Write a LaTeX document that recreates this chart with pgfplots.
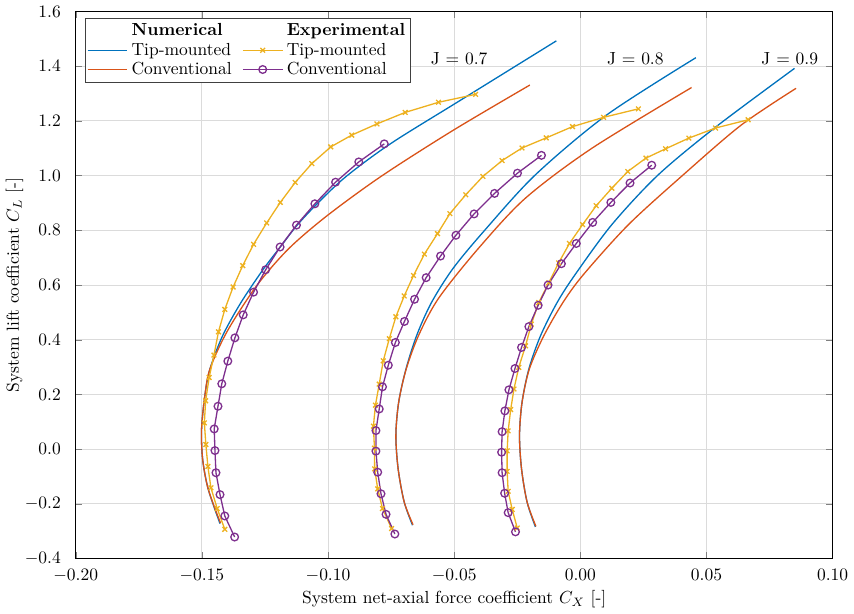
\documentclass[border=0pt]{standalone}
\usepackage{pgfplots}
\pgfplotsset{compat=1.18}
\definecolor{mblue}{rgb}{0,0.447,0.741}
\definecolor{morange}{rgb}{0.85,0.325,0.098}
\definecolor{myellow}{rgb}{0.929,0.694,0.125}
\definecolor{mpurple}{rgb}{0.494,0.184,0.556}
\begin{document}
\begin{tikzpicture}
\begin{axis}[
  width=433pt, height=313pt, scale only axis,
  xmin=-0.2, xmax=0.1, ymin=-0.4, ymax=1.6,
  xtick={-0.2,-0.15,-0.1,-0.05,0,0.05,0.1},
  ytick={-0.4,-0.2,0,0.2,0.4,0.6,0.8,1.0,1.2,1.4,1.6},
  scaled x ticks=false, scaled y ticks=false,
  xticklabel style={yshift=-2.5pt,/pgf/number format/.cd,fixed,fixed zerofill,precision=2},
  yticklabel style={xshift=-5pt,/pgf/number format/.cd,fixed,fixed zerofill,precision=1},
  tick align=inside, major tick length=3.8pt,
  grid=major, major grid style={black!14, line width=0.5pt},
  axis line style={line width=0.6pt},
  xlabel={System net-axial force coefficient $C_X$ [-]},
  ylabel={System lift coefficient $C_L$ [-]},
  xlabel style={yshift=2pt},
  ylabel shift=-6pt,
  legend columns=2,
  legend image code/.code={\draw[mark repeat=2,mark phase=2,#1] plot coordinates {(0cm,0cm) (0.4cm,0cm) (0.8cm,0cm)};},
  legend style={at={(0.012,0.988)}, anchor=north west, draw=black!75, line width=0.6pt, fill=white,
    inner sep=1pt, row sep=-1.5pt, font=\normalsize,
    /tikz/every even column/.append style={column sep=4pt}},
  legend cell align=left,
]
% Numerical tip-mounted (blue)
\addplot[mblue, line width=0.75pt, smooth, forget plot] coordinates {
(-0.1428,-0.272) (-0.1475,-0.145) (-0.1497,-0.035) (-0.1501,0.074) (-0.1488,0.196) (-0.1468,0.293) (-0.1418,0.414) (-0.1345,0.536) (-0.1257,0.657) (-0.1190,0.738) (-0.1123,0.818) (-0.1040,0.900) (-0.0928,0.997) (-0.0750,1.118) (-0.0474,1.276) (-0.0095,1.4925)};
\addplot[mblue, line width=0.75pt, smooth, forget plot] coordinates {
(-0.0665,-0.278) (-0.0698,-0.193) (-0.0722,-0.072) (-0.0731,0.050) (-0.0720,0.171) (-0.0691,0.293) (-0.0648,0.417) (-0.0590,0.536) (-0.0505,0.660) (-0.0382,0.797) (-0.0178,1.003) (0.0105,1.222) (0.0458,1.431)};
\addplot[mblue, line width=0.75pt, smooth, forget plot] coordinates {
(-0.0178,-0.284) (-0.0211,-0.193) (-0.0233,-0.072) (-0.0241,0.050) (-0.0231,0.171) (-0.0204,0.293) (-0.0158,0.414) (-0.0092,0.536) (-0.0020,0.639) (0.0125,0.821) (0.0309,1.003) (0.0540,1.180) (0.0849,1.392)};
% Numerical conventional (orange)
\addplot[morange, line width=0.75pt, smooth, forget plot] coordinates {
(-0.1426,-0.270) (-0.1475,-0.145) (-0.1497,-0.035) (-0.1501,0.074) (-0.1488,0.196) (-0.1468,0.293) (-0.1400,0.430) (-0.1284,0.596) (-0.1159,0.730) (-0.1007,0.851) (-0.0790,0.997) (-0.0505,1.165) (-0.0200,1.331)};
\addplot[morange, line width=0.75pt, smooth, forget plot] coordinates {
(-0.0663,-0.276) (-0.0698,-0.193) (-0.0722,-0.072) (-0.0731,0.050) (-0.0720,0.171) (-0.0690,0.293) (-0.0639,0.420) (-0.0560,0.554) (-0.0402,0.736) (-0.0217,0.918) (0.0046,1.100) (0.0441,1.322)};
\addplot[morange, line width=0.75pt, smooth, forget plot] coordinates {
(-0.0176,-0.282) (-0.0211,-0.193) (-0.0233,-0.072) (-0.0241,0.050) (-0.0231,0.171) (-0.0202,0.293) (-0.0145,0.414) (-0.0069,0.536) (0.0013,0.639) (0.0191,0.821) (0.0408,1.003) (0.0638,1.185) (0.0855,1.319)};
% Experimental tip-mounted (yellow, x)
\addplot[myellow, line width=0.75pt, mark=x, mark size=1.9pt, forget plot] coordinates {
(-0.1409,-0.293) (-0.1439,-0.217) (-0.1464,-0.141) (-0.1476,-0.063) (-0.1484,0.017) (-0.1490,0.096) (-0.1485,0.177) (-0.1471,0.262) (-0.1452,0.344) (-0.1434,0.429) (-0.1409,0.511) (-0.1376,0.593) (-0.1338,0.671) (-0.1295,0.749) (-0.1243,0.827) (-0.1189,0.902) (-0.1130,0.975) (-0.1064,1.044) (-0.0989,1.105) (-0.0906,1.148) (-0.0806,1.189) (-0.0694,1.231) (-0.0562,1.268) (-0.0415,1.297)};
\addplot[myellow, line width=0.75pt, mark=x, mark size=1.9pt, forget plot] coordinates {
(-0.0748,-0.290) (-0.0784,-0.217) (-0.0803,-0.145) (-0.0815,-0.072) (-0.0816,0.004) (-0.0820,0.084) (-0.0812,0.161) (-0.0797,0.238) (-0.0781,0.323) (-0.0757,0.404) (-0.0731,0.484) (-0.0698,0.560) (-0.0661,0.635) (-0.0618,0.713) (-0.0566,0.788) (-0.0517,0.861) (-0.0454,0.930) (-0.0386,0.997) (-0.0310,1.055) (-0.0231,1.101) (-0.0135,1.138) (-0.0031,1.179) (0.0092,1.213) (0.0230,1.244)};
\addplot[myellow, line width=0.75pt, mark=x, mark size=1.9pt, forget plot] coordinates {
(-0.0250,-0.288) (-0.0270,-0.220) (-0.0286,-0.154) (-0.0290,-0.081) (-0.0290,-0.006) (-0.0286,0.067) (-0.0276,0.145) (-0.0263,0.220) (-0.0244,0.299) (-0.0217,0.378) (-0.0194,0.457) (-0.0165,0.536) (-0.0125,0.608) (-0.0086,0.681) (-0.0043,0.752) (0.0009,0.821) (0.0063,0.890) (0.0125,0.954) (0.0188,1.015) (0.0260,1.064) (0.0338,1.098) (0.0430,1.137) (0.0536,1.174) (0.0665,1.204)};
% Experimental conventional (purple, o)
\addplot[mpurple, line width=0.75pt, mark=o, mark size=2.2pt, forget plot] coordinates {
(-0.1370,-0.321) (-0.1409,-0.244) (-0.1428,-0.166) (-0.1444,-0.086) (-0.1448,-0.005) (-0.1451,0.074) (-0.1436,0.157) (-0.1421,0.239) (-0.1397,0.322) (-0.1369,0.407) (-0.1336,0.491) (-0.1295,0.574) (-0.1247,0.656) (-0.1190,0.739) (-0.1125,0.819) (-0.1052,0.897) (-0.0970,0.976) (-0.0878,1.050) (-0.0777,1.116)};
\addplot[mpurple, line width=0.75pt, mark=o, mark size=2.2pt, forget plot] coordinates {
(-0.0735,-0.310) (-0.0770,-0.238) (-0.0790,-0.163) (-0.0803,-0.084) (-0.0810,-0.007) (-0.0810,0.068) (-0.0797,0.147) (-0.0784,0.228) (-0.0761,0.307) (-0.0733,0.390) (-0.0697,0.467) (-0.0657,0.548) (-0.0611,0.627) (-0.0554,0.706) (-0.0493,0.782) (-0.0421,0.860) (-0.0340,0.935) (-0.0249,1.009) (-0.0154,1.074)};
\addplot[mpurple, line width=0.75pt, mark=o, mark size=2.2pt, forget plot] coordinates {
(-0.0257,-0.302) (-0.0286,-0.232) (-0.0300,-0.161) (-0.0310,-0.086) (-0.0312,-0.011) (-0.0310,0.064) (-0.0299,0.140) (-0.0283,0.217) (-0.0259,0.295) (-0.0233,0.372) (-0.0204,0.448) (-0.0167,0.526) (-0.0128,0.600) (-0.0075,0.678) (-0.0016,0.752) (0.0049,0.829) (0.0121,0.902) (0.0197,0.973) (0.0283,1.038)};
% Legend
\addlegendimage{white, draw opacity=0}\addlegendentry{\textbf{Numerical}}
\addlegendimage{white, draw opacity=0}\addlegendentry{\textbf{Experimental}}
\addlegendimage{draw=mblue, color=mblue, line width=0.75pt}\addlegendentry{Tip-mounted}
\addlegendimage{draw=myellow, color=myellow, line width=0.75pt, mark=x, mark size=1.9pt}\addlegendentry{Tip-mounted}
\addlegendimage{draw=morange, color=morange, line width=0.75pt}\addlegendentry{Conventional}
\addlegendimage{draw=mpurple, color=mpurple, line width=0.75pt, mark=o, mark size=2.2pt}\addlegendentry{Conventional}
% Labels
\node at (axis cs:-0.048,1.428) {J = 0.7};
\node at (axis cs:0.0218,1.428) {J = 0.8};
\node at (axis cs:0.083,1.428) {J = 0.9};
\end{axis}
\end{tikzpicture}
\end{document}
